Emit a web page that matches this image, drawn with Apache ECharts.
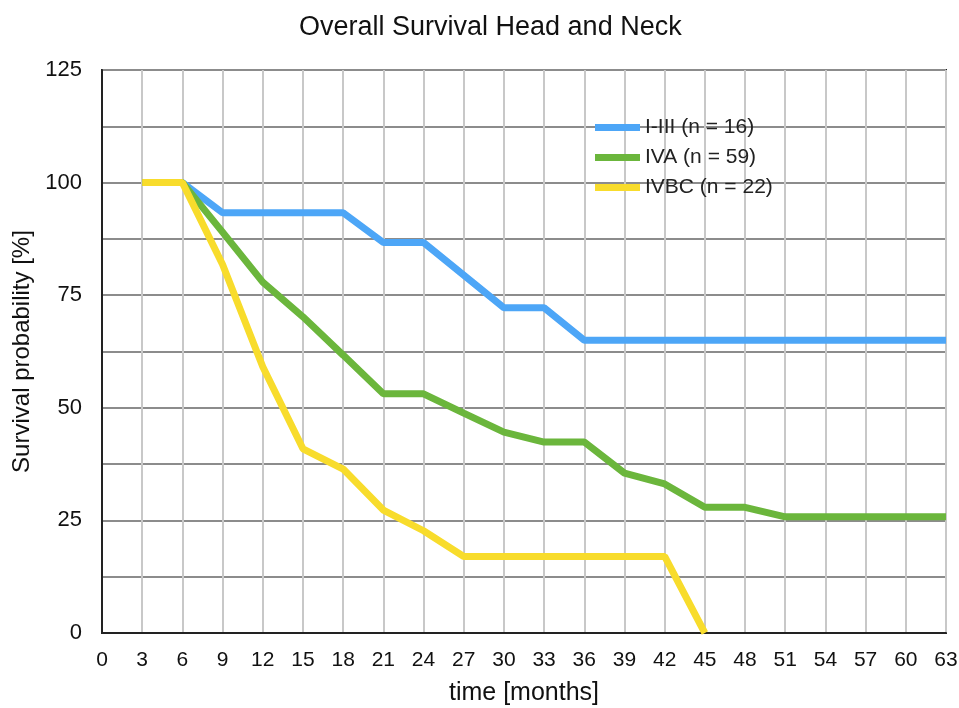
<!DOCTYPE html>
<html><head><meta charset="utf-8">
<script src="https://cdn.jsdelivr.net/npm/echarts@6/dist/echarts.min.js"></script>
<style>html,body{margin:0;padding:0;background:#fff}#c{width:959px;height:708px}</style>
</head><body><div id="c"></div>
<script>
const months = {
  I_III: [3, 6, 9, 18, 21, 24, 30, 33, 36, 63],
  IVA:   [3, 6, 9, 12, 15, 18, 21, 24, 27, 30, 33, 36, 39, 42, 45, 48, 51, 63],
  IVBC:  [3, 6, 9, 12, 15, 18, 21, 24, 27, 42, 45]
};
const survI_III = [100, 100, 93.3, 93.3, 86.7, 86.7, 72.2, 72.2, 65, 65];
const survIVA = [100, 100, 89, 77.9, 70.2, 61.7, 53.1, 53.1, 48.8, 44.6, 42.4, 42.4, 35.5, 33.1, 27.9, 27.9, 25.8, 25.8];
const survIVBC = [100, 100, 81.8, 59.1, 40.9, 36.4, 27.3, 22.7, 17, 17, 0];
const seriesNames = ['I-III (n = 16)', 'IVA (n = 59)', 'IVBC (n = 22)'];
const colors = ['#4da6f7', '#6bb63c', '#f8dc2c'];
const xTicks = {min: 0, max: 63, interval: 3};
const yTicks = {min: 0, max: 125, interval: 12.5};

function pairs(xs, ys) { return xs.map((x, i) => [x, ys[i]]); }
const font = 'Liberation Sans, Arial, sans-serif';
const chart = echarts.init(document.getElementById('c'));
chart.setOption({
  animation: false,
  title: { text: 'Overall Survival Head and Neck', left: 294, top: 9,
    textStyle: { fontFamily: font, fontWeight: 'normal', fontSize: 27, color: '#111' } },
  legend: { orient: 'vertical', left: 590, top: 112, itemWidth: 45, itemHeight: 7, itemGap: 9,
    icon: 'rect',
    textStyle: { fontFamily: font, fontSize: 21, color: '#222' },
    data: seriesNames },
  grid: { left: 102, right: 13, top: 70, bottom: 75, show: true, borderColor: '#222', borderWidth: 2,
    outerBoundsMode: 'none', containLabel: false },
  xAxis: { type: 'value', min: xTicks.min, max: xTicks.max, interval: xTicks.interval,
    name: 'time [months]', nameLocation: 'middle', nameGap: 48,
    nameTextStyle: { fontFamily: font, fontSize: 25, color: '#111' },
    axisLine: { show: true, lineStyle: { color: '#222', width: 2 } }, axisTick: { show: false },
    axisLabel: { fontFamily: font, fontSize: 21, color: '#111', margin: 17 },
    splitLine: { show: true, lineStyle: { color: '#c8c8c8', width: 2 } } },
  yAxis: { type: 'value', min: yTicks.min, max: yTicks.max, interval: yTicks.interval,
    name: 'Survival probability [%]', nameLocation: 'middle', nameGap: 66,
    nameTextStyle: { fontFamily: font, fontSize: 24, color: '#111' },
    axisLine: { show: true, lineStyle: { color: '#222', width: 2 } }, axisTick: { show: false },
    axisLabel: { fontFamily: font, fontSize: 22, color: '#111', margin: 20,
      formatter: v => (v % 25 === 0 ? String(v) : '') },
    splitLine: { show: true, lineStyle: { color: '#8c8c8c', width: 2 } } },
  series: [
    { name: seriesNames[0], type: 'line', data: pairs(months.I_III, survI_III), color: colors[0], symbol: 'none', lineStyle: { width: 7 }, z: 3 },
    { name: seriesNames[1], type: 'line', data: pairs(months.IVA, survIVA), color: colors[1], symbol: 'none', lineStyle: { width: 7 }, z: 4 },
    { name: seriesNames[2], type: 'line', data: pairs(months.IVBC, survIVBC), color: colors[2], symbol: 'none', lineStyle: { width: 7 }, z: 5 }
  ]
});
</script></body></html>
